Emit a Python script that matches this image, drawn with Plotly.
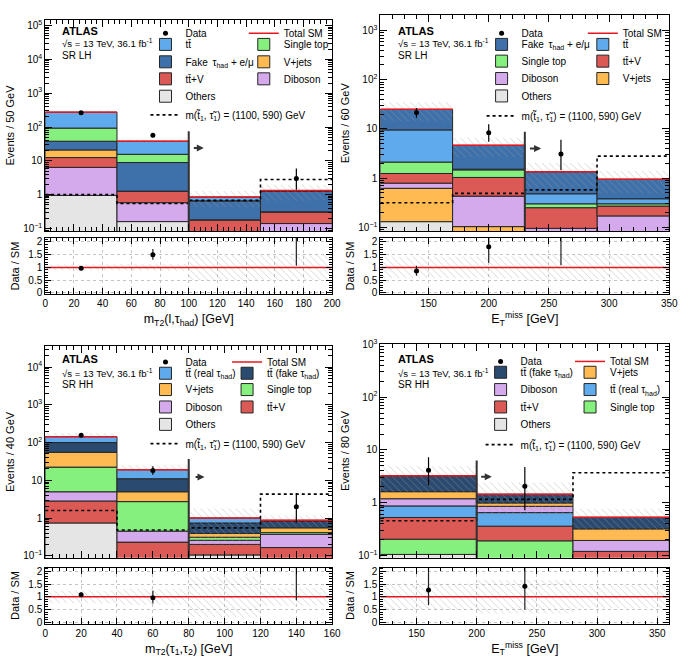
import math
import plotly.graph_objects as go

FONT = "Liberation Sans, Arial, sans-serif"

# ---------------- colours ----------------
C_TT = "#5eaaec"
C_FAKE = "#3e70aa"
C_TTFAKE = "#2b4a6f"
C_ST = "#86f07e"
C_VJ = "#ffbb52"
C_TTV = "#db5a55"
C_DB = "#d4aaec"
C_OTH = "#e5e5e5"

TT = "tt\u0304"
FAKE = "Fake \u2009\u03c4<sub>had</sub> + e/\u03bc"
SIGNAL_NAME = "m(t\u0303<sub>1</sub>, \u03c4\u0303<sub>1</sub>) = (1100, 590) GeV"

# ---------------- Panel 1: SR LH, mT2(l, tau_had) ----------------
p1_edges = [0, 50, 100, 150, 200]
p1_others = [0.95, 0.16, 0.01, 0.0]
p1_diboson = [5.45, 0.42, 0.04, 0.14]
p1_ttv = [6.1, 0.67, 0.13, 0.17]
p1_vjets = [8.5, 0.02, 0.0, 0.0]
p1_fake = [17.0, 7.65, 0.48, 0.97]
p1_stop = [55.0, 6.7, 0.0, 0.0]
p1_ttbar = [182.0, 22.4, 0.19, 0.04]
p1_data = [265, 57, None, 3]
p1_data_up = [16.8, 8.6, 0, 2.9]
p1_data_dn = [16.2, 7.5, 0, 1.6]
p1_signal = [1.0, 0.55, 0.68, 2.8]
p1_unc = [0.12, 0.13, 0.5, 0.5]
p1_cut = [100, 75]
p1_arrow = [102.5, 110.5, 24]

# ---------------- Panel 2: SR LH, ETmiss ----------------
p2_edges = [110, 170, 230, 290, 350]
p2_others = [0.13, 0.02, 0.01, 0.0]
p2_vjets = [0.49, 0.083, 0.0, 0.0]
p2_diboson = [0.17, 0.327, 0.085, 0.17]
p2_ttv = [0.45, 0.6, 0.155, 0.10]
p2_stop = [0.88, 0.44, 0.05, 0.03]
p2_ttbar = [7.43, 0.05, 0.18, 0.08]
p2_fake = [15.45, 3.12, 0.86, 0.57]
p2_data = [21.5, 8.4, 3.1, None]
p2_data_up = [5.2, 4.0, 2.9, 0]
p2_data_dn = [4.6, 2.9, 1.65, 0]
p2_signal = [0.316, 0.49, 0.575, 2.8]
p2_unc = [0.42, 0.43, 0.52, 0.48]
p2_cut = [230, 8.8]
p2_arrow = [233, 243.5, 4.0]

# ---------------- Panel 3: SR HH, mT2(tau1, tau2) ----------------
p3_edges = [0, 40, 80, 120, 160]
p3_others = [0.74, 0.02, 0.105, 0.0]
p3_ttv = [2.09, 0.21, 0.095, 0.165]
p3_diboson = [2.13, 0.22, 0.057, 0.205]
p3_stop = [17.34, 2.27, 0.053, 0.04]
p3_vjets = [32.7, 2.24, 0.08, 0.14]
p3_ttfake = [45.0, 6.04, 0.35, 0.27]
p3_ttreal = [43.0, 8.0, 0.26, 0.05]
p3_data = [155, 18.2, None, 2]
p3_data_up = [13.0, 5.4, 0, 2.6]
p3_data_dn = [12.4, 4.2, 0, 1.25]
p3_signal = [1.58, 0.48, 0.55, 4.3]
p3_unc = [0.25, 0.32, 0.8, 0.35]
p3_cut = [80, 36.7]
p3_arrow = [83, 88.8, 12.2]

# ---------------- Panel 4: SR HH, ETmiss ----------------
p4_edges = [120, 200, 280, 360]
p4_others = [0.105, 0.0, 0.0]
p4_stop = [0.099, 0.19, 0.0]
p4_ttv = [0.321, 0.17, 0.12]
p4_ttreal = [0.345, 0.29, 0.0]
p4_diboson = [0.32, 0.205, 0.073]
p4_vjets = [0.43, 0.135, 0.127]
p4_ttfake = [1.61, 0.46, 0.21]
p4_data = [4.1, 2.05, None]
p4_data_up = [3.2, 2.7, 0]
p4_data_dn = [1.95, 1.33, 0]
p4_signal = [0.457, 1.16, 3.7]
p4_unc = [0.52, 0.66, 0.45]
p4_cut = [200, 6.3]
p4_arrow = [202.5, 212.5, 3.1]

log_tick_vals = [0.1, 1, 10, 100, 1000, 1e4, 1e5]
log_tick_text = ["10<sup>\u22121</sup>", "1", "10", "10<sup>2</sup>", "10<sup>3</sup>",
                 "10<sup>4</sup>", "10<sup>5</sup>"]
ratio_ticks = [0, 0.5, 1, 1.5, 2]
ratio_tick_text = ["0", "0.5", "1", "1.5", "2"]

# (name, values, colour, legend column, legend row) in stacking order, bottom first
panels = [
    dict(edges=p1_edges,
         comps=[("Others", p1_others, C_OTH, "L", 4), ("Diboson", p1_diboson, C_DB, "R", 3),
                (TT + "+V", p1_ttv, C_TTV, "L", 3), ("V+jets", p1_vjets, C_VJ, "R", 2),
                (FAKE, p1_fake, C_FAKE, "L", 2),
                ("Single top", p1_stop, C_ST, "R", 1), (TT, p1_ttbar, C_TT, "L", 1)],
         data=p1_data, up=p1_data_up, dn=p1_data_dn, sig=p1_signal, unc=p1_unc,
         cut=p1_cut, arrow=p1_arrow, yrange=[-1.08, 5.17],
         xdom=[43 / 695, 335 / 695], ydom=[1 - 228 / 660, 1 - 13 / 660],
         rdom=[1 - 292 / 660, 1 - 235 / 660], dtick=20, minor=4,
         ytitle="Events / 50 GeV", xtitle="m<sub>T2</sub>(l,\u03c4<sub>had</sub>) [GeV]",
         region="SR LH", txt_x=57.5, txt_y=[24, 36.5, 49],
         legLx=185, legRx=285, rows=[24, 42.3, 60, 77.3, 95], sigrow=114),
    dict(edges=p2_edges,
         comps=[("Others", p2_others, C_OTH, "L", 4), ("V+jets", p2_vjets, C_VJ, "R", 3),
                ("Diboson", p2_diboson, C_DB, "L", 3), (TT + "+V", p2_ttv, C_TTV, "R", 2),
                ("Single top", p2_stop, C_ST, "L", 2), (TT, p2_ttbar, C_TT, "R", 1),
                (FAKE, p2_fake, C_FAKE, "L", 1)],
         data=p2_data, up=p2_data_up, dn=p2_data_dn, sig=p2_signal, unc=p2_unc,
         cut=p2_cut, arrow=p2_arrow, yrange=[-1.08, 3.31],
         xdom=[384 / 695, 678 / 695], ydom=[1 - 228 / 660, 1 - 8.5 / 660],
         rdom=[1 - 292 / 660, 1 - 235 / 660], dtick=50, minor=10,
         ytitle="Events / 60 GeV", xtitle="E<sub>T</sub><sup>miss</sup> [GeV]",
         region="SR LH", txt_x=399.5, txt_y=[24, 36.5, 49],
         legLx=527, legRx=630, rows=[24, 42.3, 59.3, 77, 94.7], sigrow=115),
    dict(edges=p3_edges,
         comps=[("Others", p3_others, C_OTH, "L", 4), (TT + "+V", p3_ttv, C_TTV, "R", 3),
                ("Diboson", p3_diboson, C_DB, "L", 3), ("Single top", p3_stop, C_ST, "R", 2),
                ("V+jets", p3_vjets, C_VJ, "L", 2),
                (TT + " (fake \u03c4<sub>had</sub>)", p3_ttfake, C_TTFAKE, "R", 1),
                (TT + " (real \u03c4<sub>had</sub>)", p3_ttreal, C_TT, "L", 1)],
         data=p3_data, up=p3_data_up, dn=p3_data_dn, sig=p3_signal, unc=p3_unc,
         cut=p3_cut, arrow=p3_arrow, yrange=[-1.05, 4.55],
         xdom=[43 / 695, 335 / 695], ydom=[1 - 560 / 660, 1 - 345 / 660],
         rdom=[1 - 627 / 660, 1 - 570 / 660], dtick=20, minor=4,
         ytitle="Events / 40 GeV",
         xtitle="m<sub>T2</sub>(\u03c4<sub>1</sub>,\u03c4<sub>2</sub>) [GeV]",
         region="SR HH", txt_x=57.5, txt_y=[357.5, 372, 384],
         legLx=185, legRx=268, rows=[358.3, 376.7, 393.3, 411, 428.7], sigrow=448.3),
    dict(edges=p4_edges,
         comps=[("Others", p4_others, C_OTH, "L", 4), ("Single top", p4_stop, C_ST, "R", 3),
                (TT + "+V", p4_ttv, C_TTV, "L", 3),
                (TT + " (real \u03c4<sub>had</sub>)", p4_ttreal, C_TT, "R", 2),
                ("Diboson", p4_diboson, C_DB, "L", 2), ("V+jets", p4_vjets, C_VJ, "R", 1),
                (TT + " (fake \u03c4<sub>had</sub>)", p4_ttfake, C_TTFAKE, "L", 1)],
         data=p4_data, up=p4_data_up, dn=p4_data_dn, sig=p4_signal, unc=p4_unc,
         cut=p4_cut, arrow=p4_arrow, yrange=[-1.04, 3.0],
         xdom=[384 / 695, 678 / 695], ydom=[1 - 560 / 660, 1 - 343 / 660],
         rdom=[1 - 627 / 660, 1 - 570 / 660], dtick=50, minor=10,
         ytitle="Events / 80 GeV", xtitle="E<sub>T</sub><sup>miss</sup> [GeV]",
         region="SR HH", txt_x=399.5, txt_y=[357.5, 372, 384],
         legLx=526, legRx=617, rows=[357.7, 375.7, 393.3, 411, 428.7], sigrow=449.3),
]

fig = go.Figure()
layout = dict(width=695, height=660, margin=dict(l=0, r=0, t=0, b=0),
              paper_bgcolor="white", plot_bgcolor="white", barmode="overlay",
              font=dict(family=FONT, size=10, color="black"), showlegend=True)
annotations = []
hatch = dict(shape="\\", fgcolor="#a0a0a0", bgcolor="rgba(0,0,0,0)", size=5, solidity=0.16)
minor_log = [m * 10 ** e for e in range(-2, 6) for m in range(2, 10)]
legend_count = [0]


def ax_id(n, letter):
    return letter if n == 1 else f"{letter}{n}"


def key(n, letter):
    return f"{letter}axis" if n == 1 else f"{letter}axis{n}"


def new_legend(text_x, row_y, lift=0):
    legend_count[0] += 1
    k = legend_count[0]
    lid = "legend" if k == 1 else f"legend{k}"
    layout[lid] = dict(x=(text_x - 40) / 695, y=1 - (row_y - 12 - lift) / 660, xanchor="left",
                       yanchor="top", bgcolor="rgba(0,0,0,0)", font=dict(size=10, family=FONT),
                       tracegroupgap=0, itemwidth=30, itemclick=False, itemdoubleclick=False)
    return lid


for i, p in enumerate(panels):
    nm, nr = 2 * i + 1, 2 * i + 2
    xm, ym, xr, yr = ax_id(nm, "x"), ax_id(nm, "y"), ax_id(nr, "x"), ax_id(nr, "y")
    edges = p["edges"]
    rows = p["rows"]
    n = len(edges) - 1
    centers = [(a + b) / 2 for a, b in zip(edges[:-1], edges[1:])]
    widths = [b - a for a, b in zip(edges[:-1], edges[1:])]

    base = [1e-4] * n
    for name, vals, color, col, row in p["comps"]:
        lid = new_legend(p["legLx"] if col == "L" else p["legRx"], rows[row], lift=7)
        fig.add_trace(go.Bar(x=centers, y=vals, base=list(base), width=widths, name=name,
                             marker=dict(color=color, line=dict(color="#262626", width=1)),
                             legend=lid, xaxis=xm, yaxis=ym, hoverinfo="skip"))
        base = [b + v for b, v in zip(base, vals)]
    total = [b - 1e-4 for b in base]
    unc = p["unc"]

    # uncertainty hatch (main)
    fig.add_trace(go.Bar(x=centers, y=[2 * u * t for u, t in zip(unc, total)],
                         base=[t * (1 - u) for u, t in zip(unc, total)], width=widths,
                         marker=dict(color="rgba(0,0,0,0)", line=dict(width=0), pattern=hatch),
                         showlegend=False, xaxis=xm, yaxis=ym, hoverinfo="skip"))
    # total SM line
    sx, sy = [], []
    for k in range(n):
        sx += [edges[k], edges[k + 1], None]
        sy += [total[k], total[k], None]
    fig.add_trace(go.Scatter(x=sx, y=sy, mode="lines", line=dict(color="#e8161e", width=1.5),
                             name="Total SM", legend=new_legend(p["legRx"], rows[0]),
                             xaxis=xm, yaxis=ym))
    # signal
    fig.add_trace(go.Scatter(x=edges, y=p["sig"] + [p["sig"][-1]], mode="lines",
                             line=dict(color="black", width=1.6, dash="dot", shape="hv"),
                             name=SIGNAL_NAME, legend=new_legend(p["legLx"], p["sigrow"], lift=7),
                             xaxis=xm, yaxis=ym))
    # cut line + arrow
    cx, ctop = p["cut"]
    fig.add_trace(go.Scatter(x=[cx, cx], y=[1e-3, ctop], mode="lines",
                             line=dict(color="#333333", width=2), showlegend=False,
                             xaxis=xm, yaxis=ym, hoverinfo="skip"))
    a0, a1, ay = p["arrow"]
    annotations.append(dict(x=a1, y=math.log10(ay), ax=a0, ay=math.log10(ay), xref=xm, yref=ym,
                            axref=xm, ayref=ym, text="", showarrow=True, arrowhead=2,
                            arrowsize=0.7, arrowwidth=2, arrowcolor="#333333"))
    # data
    fig.add_trace(go.Scatter(x=centers, y=p["data"], mode="markers", name="Data",
                             marker=dict(color="black", size=5),
                             error_y=dict(type="data", symmetric=False, array=p["up"],
                                          arrayminus=p["dn"], color="black", thickness=1.2, width=0),
                             legend=new_legend(p["legLx"], rows[0]), xaxis=xm, yaxis=ym))

    # ratio panel
    fig.add_trace(go.Bar(x=centers, y=[2 * u for u in unc], base=[1 - u for u in unc], width=widths,
                         marker=dict(color="rgba(0,0,0,0)", line=dict(width=0), pattern=hatch),
                         showlegend=False, xaxis=xr, yaxis=yr, hoverinfo="skip"))
    fig.add_trace(go.Scatter(x=[edges[0], edges[-1]], y=[1, 1], mode="lines",
                             line=dict(color="#e8161e", width=1.5), showlegend=False,
                             xaxis=xr, yaxis=yr, hoverinfo="skip"))
    rx, ry, rup, rdn = [], [], [], []
    for c, d, u, dn, t in zip(centers, p["data"], p["up"], p["dn"], total):
        if d is None:
            continue
        rx.append(c)
        ry.append(d / t)
        rup.append(u / t)
        rdn.append(dn / t)
    fig.add_trace(go.Scatter(x=rx, y=ry, mode="markers", marker=dict(color="black", size=5),
                             error_y=dict(type="data", symmetric=False, array=rup, arrayminus=rdn,
                                          color="#222222", thickness=1.2, width=0),
                             showlegend=False, xaxis=xr, yaxis=yr))

    common = dict(showline=True, linecolor="black", linewidth=1, mirror="allticks",
                  ticks="inside", tickcolor="black", zeroline=False)
    xrng = [edges[0], edges[-1]]
    layout[key(nm, "x")] = dict(domain=p["xdom"], anchor=ym, range=xrng, matches=xr,
                                showticklabels=False, dtick=p["dtick"], tick0=0, ticklen=7,
                                minor=dict(ticks="inside", dtick=p["minor"], ticklen=4,
                                           tickcolor="black"),
                                showgrid=False, **common)
    layout[key(nm, "y")] = dict(domain=p["ydom"], anchor=xm, type="log", range=p["yrange"],
                                tickvals=log_tick_vals, ticktext=log_tick_text, ticklen=7,
                                minor=dict(ticks="inside", tickvals=minor_log, ticklen=4,
                                           tickcolor="black"),
                                showgrid=False, tickfont=dict(size=10),
                                title=dict(text=p["ytitle"], font=dict(size=11), standoff=6),
                                **common)
    layout[key(nr, "x")] = dict(domain=p["xdom"], anchor=yr, range=xrng, dtick=p["dtick"], tick0=0,
                                ticklen=6, tickfont=dict(size=10),
                                minor=dict(ticks="inside", dtick=p["minor"], ticklen=3,
                                           tickcolor="black"),
                                showgrid=True, gridcolor="#c4c4c4", griddash="dot", gridwidth=1,
                                title=dict(text=p["xtitle"], font=dict(size=12.5), standoff=6),
                                **common)
    layout[key(nr, "y")] = dict(domain=p["rdom"], anchor=xr, range=[-0.05, 2.15],
                                tickvals=ratio_ticks, ticktext=ratio_tick_text, ticklen=6,
                                tickfont=dict(size=10),
                                minor=dict(ticks="inside", dtick=0.1, ticklen=3, tickcolor="black"),
                                showgrid=True, gridcolor="#c4c4c4", griddash="dot", gridwidth=1,
                                title=dict(text="Data / SM", font=dict(size=11), standoff=6),
                                **common)

    # labels
    tx = p["txt_x"] / 695
    annotations.append(dict(x=tx, y=1 - p["txt_y"][0] / 660, xref="paper", yref="paper",
                            text="<b>ATLAS</b>", showarrow=False, xanchor="left",
                            yanchor="middle", font=dict(size=11)))
    annotations.append(dict(x=tx, y=1 - p["txt_y"][1] / 660, xref="paper", yref="paper",
                            text="\u221as = 13 TeV, 36.1 fb<sup>-1</sup>", showarrow=False,
                            xanchor="left", yanchor="middle", font=dict(size=9.6)))
    annotations.append(dict(x=tx, y=1 - p["txt_y"][2] / 660, xref="paper", yref="paper",
                            text=p["region"], showarrow=False, xanchor="left", yanchor="middle",
                            font=dict(size=10)))

layout["annotations"] = annotations
fig.update_layout(**layout)
fig.write_html("out.html")
